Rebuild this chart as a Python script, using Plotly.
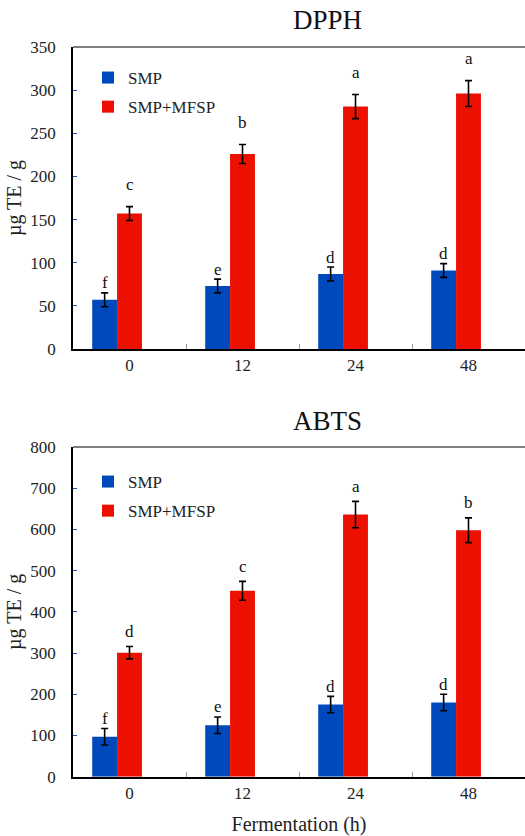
import plotly.graph_objects as go

categories = ["0", "12", "24", "48"]

dpph_smp = [57, 73, 87, 91]
dpph_smp_err = [8, 8, 8, 8]
dpph_mix = [157, 226, 281, 296]
dpph_mix_err = [8, 11, 14, 15]
dpph_smp_letters = ["f", "e", "d", "d"]
dpph_mix_letters = ["c", "b", "a", "a"]

abts_smp = [97, 125, 175, 180]
abts_smp_err = [20, 20, 20, 20]
abts_mix = [301, 451, 636, 598]
abts_mix_err = [15, 23, 32, 30]
abts_smp_letters = ["f", "e", "d", "d"]
abts_mix_letters = ["d", "c", "a", "b"]

BLUE = "#0049BC"
RED = "#EB1000"
FONT = "Liberation Serif"
W, H = 525, 836

fig = go.Figure()

def add_panel(xa, ya, legend, smp, smp_err, mix, mix_err):
    for name, vals, errs, color, off in [
        ("SMP", smp, smp_err, BLUE, -0.33),
        ("SMP+MFSP", mix, mix_err, RED, -0.11),
    ]:
        fig.add_trace(go.Bar(
            x=categories, y=vals, name=name,
            marker=dict(color=color, line=dict(width=0)),
            width=0.22, offset=off,
            error_y=dict(type="data", array=errs, visible=True,
                         color="black", thickness=1.6, width=3.5),
            xaxis=xa, yaxis=ya, legend=legend, legendgroup=name + legend,
        ))

add_panel("x", "y", "legend", dpph_smp, dpph_smp_err, dpph_mix, dpph_mix_err)
add_panel("x2", "y2", "legend2", abts_smp, abts_smp_err, abts_mix, abts_mix_err)

xd = [73 / W, 1.0]
top_dom = [1 - 349 / H, 1 - 47 / H]
bot_dom = [1 - 776.7 / H, 1 - 447 / H]

tickfont = dict(family=FONT, size=17, color="#222")
xcommon = dict(type="category", domain=xd, range=[-0.5, 3.5],
               showline=True, linecolor="black", linewidth=1.8,
               ticks="inside", tickson="boundaries", ticklen=5,
               tickcolor="#999", tickwidth=1, tickfont=tickfont,
               showgrid=False, zeroline=False, fixedrange=True,
               automargin=False)
ycommon = dict(showline=True, linecolor="black", linewidth=1.8,
               ticks="inside", ticklen=4, tickcolor="#2255CC", tickwidth=1,
               tickfont=tickfont, showgrid=False, zeroline=False,
               ticklabelstandoff=12, automargin=False)
ytitle = dict(text="µg TE / g", font=dict(family=FONT, size=20, color="#222"), standoff=3)

legend_common = dict(xanchor="left", yanchor="top",
                     font=dict(family=FONT, size=17, color="#222"),
                     bgcolor="rgba(0,0,0,0)", tracegroupgap=4, itemwidth=30)

fig.update_layout(
    width=W, height=H,
    margin=dict(l=0, r=0, t=0, b=0, autoexpand=False),
    paper_bgcolor="white", plot_bgcolor="white",
    barmode="overlay",
    xaxis=dict(xcommon, anchor="y"),
    yaxis=dict(ycommon, domain=top_dom, range=[0, 350], dtick=50, anchor="x", title=ytitle),
    xaxis2=dict(xcommon, anchor="y2",
                title=dict(text="Fermentation (h)", font=dict(family=FONT, size=20, color="#222"), standoff=16)),
    yaxis2=dict(ycommon, domain=bot_dom, range=[0, 800], dtick=100, anchor="x2", title=ytitle),
    legend=dict(legend_common, x=88 / W, y=1 - 60 / H),
    legend2=dict(legend_common, x=88 / W, y=1 - 464 / H),
    showlegend=True,
)

# top border lines
for xa, ya in [("x", "y"), ("x2", "y2")]:
    fig.add_shape(type="line", xref=xa + " domain", yref=ya + " domain",
                  x0=0, x1=1, y0=1, y1=1, line=dict(color="black", width=1))

# panel titles
for txt, ypx in [("DPPH", 20), ("ABTS", 421)]:
    fig.add_annotation(text=txt, xref="paper", yref="paper", x=327 / W, y=1 - ypx / H,
                       xanchor="center", yanchor="middle", showarrow=False,
                       font=dict(family=FONT, size=27, color="#111"))

# significance letters
def letters(xa, ya, vals, errs, labs, off, shift):
    for i, (v, e, t) in enumerate(zip(vals, errs, labs)):
        fig.add_annotation(text=t, x=i + off + 0.11, y=v + e, xref=xa, yref=ya,
                           showarrow=False, yshift=shift, yanchor="middle",
                           font=dict(family=FONT, size=17, color="#111"))

letters("x", "y", dpph_smp, dpph_smp_err, dpph_smp_letters, -0.33, 10)
letters("x", "y", dpph_mix, dpph_mix_err, dpph_mix_letters, -0.11, 22)
letters("x2", "y2", abts_smp, abts_smp_err, abts_smp_letters, -0.33, 10)
letters("x2", "y2", abts_mix, abts_mix_err, abts_mix_letters, -0.11, 15)

fig.write_html("out.html", config={"displayModeBar": False},
               post_script="document.body.style.margin='0';")
